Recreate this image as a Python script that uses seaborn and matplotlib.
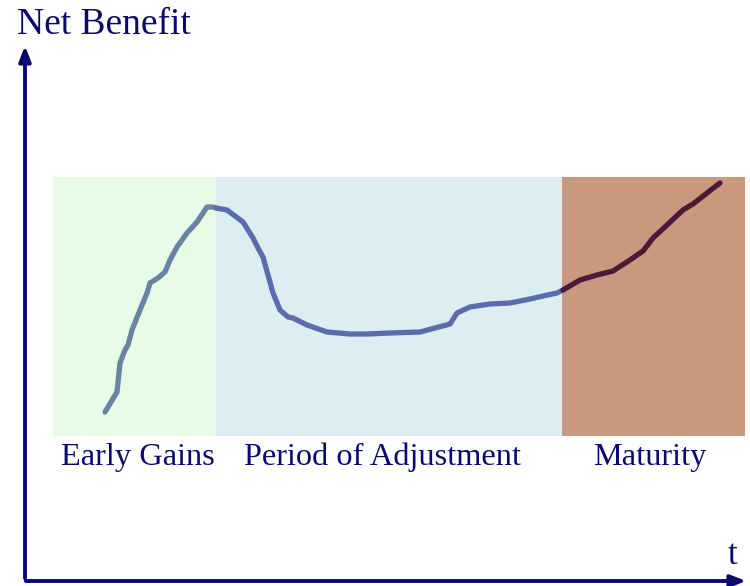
import pandas as pd
import numpy as np
import matplotlib
matplotlib.use("Agg")
import matplotlib.pyplot as plt
import seaborn as sns

# curve (x = time, y = net benefit), one list per phase
early_t = [105, 117, 120, 125, 128, 132, 140, 147, 150, 158, 165, 170, 177, 187, 197, 207, 213, 216]
early_b = [174, 194, 223, 236, 241, 256, 276, 293, 303, 308, 314, 326, 339, 353, 364, 379, 379, 378]
adjust_t = [216, 227, 243, 253, 258, 263, 273, 280, 288, 293, 307, 327, 350, 367, 390, 420, 450,
            457, 470, 490, 510, 530, 543, 557, 563]
adjust_b = [378, 376, 364, 348, 338, 329, 293, 276, 269, 268, 261, 254, 252, 252, 253, 254, 262,
            273, 279, 282, 283, 287, 290, 293, 296]
mature_t = [563, 580, 597, 613, 630, 643, 653, 667, 683, 693, 707, 720]
mature_b = [296, 306, 311, 315, 326, 335, 348, 361, 376, 382, 393, 403]

phases = ["Early Gains", "Period of Adjustment", "Maturity"]
phase_start = [53, 216, 562]
phase_end = [216, 562, 745]
label_x = [138, 383, 650]
band_low, band_high = 150, 409
phase_fill = ["#e6fce6", "#ddeef2", "#ca987c"]
line_cols = ["#6884a4", "#5a6cac", "#4a1a38"]

df = pd.concat([
    pd.DataFrame({"t": early_t, "benefit": early_b, "phase": phases[0]}),
    pd.DataFrame({"t": adjust_t, "benefit": adjust_b, "phase": phases[1]}),
    pd.DataFrame({"t": mature_t, "benefit": mature_b, "phase": phases[2]}),
])

sns.set_style("white")
plt.rcParams["font.family"] = ["Liberation Serif", "DejaVu Serif"]
navy = "#0a0a6e"

fig = plt.figure(figsize=(7.5, 5.86), dpi=100)
ax = fig.add_axes([0, 0, 1, 1])
ax.set_xlim(0, 750)
ax.set_ylim(0, 586)
ax.axis("off")

for i in range(3):
    ax.axvspan(phase_start[i], phase_end[i], ymin=band_low / 586, ymax=band_high / 586,
               color=phase_fill[i], lw=0, zorder=0)
    ax.text(label_x[i], 129, phases[i], ha="center", va="center",
            fontsize=23.3, color=navy)

sns.lineplot(data=df, x="t", y="benefit", hue="phase", palette=line_cols, sort=False,
             estimator=None, lw=3.8, legend=False, ax=ax, zorder=3)
for l in ax.lines:
    l.set_solid_capstyle("round")
    l.set_solid_joinstyle("round")

# axes arrows
ax.annotate("", xy=(25, 543), xytext=(25, 5),
            arrowprops=dict(arrowstyle="-|>,head_length=0.9,head_width=0.35", color=navy, lw=2.8))
ax.annotate("", xy=(749, 5), xytext=(23, 5),
            arrowprops=dict(arrowstyle="-|>,head_length=0.9,head_width=0.35", color=navy, lw=2.8))
ax.text(17, 561, "Net Benefit", fontsize=27, color=navy, ha="left", va="center")
ax.text(733, 31, "t", fontsize=25, color=navy, ha="center", va="center")

plt.savefig("out.png", dpi=100)
